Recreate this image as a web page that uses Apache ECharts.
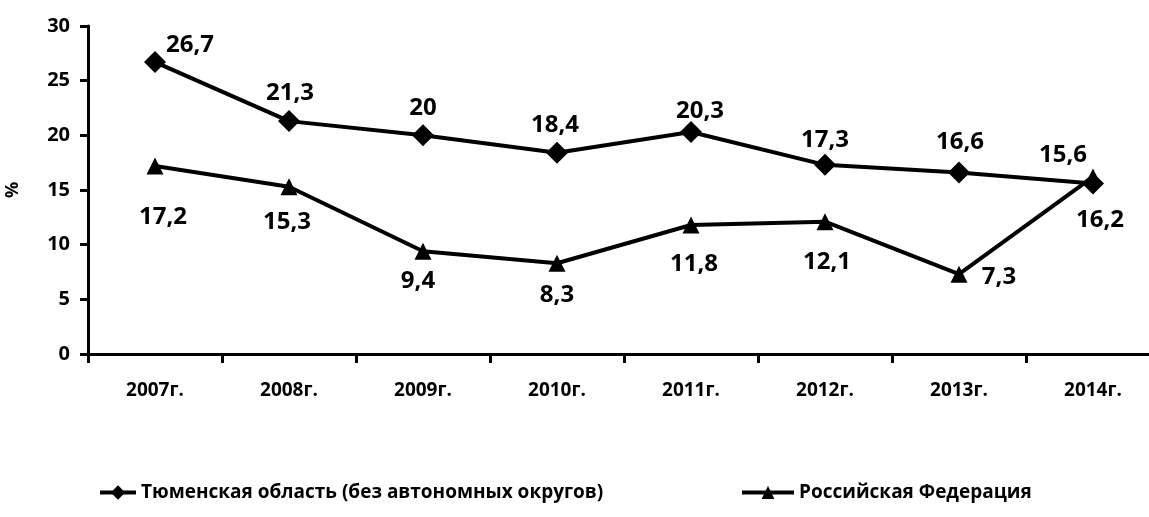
<!DOCTYPE html>
<html>
<head>
<meta charset="utf-8">
<script src="https://cdn.jsdelivr.net/npm/echarts@6/dist/echarts.min.js"></script>
<style>
  html, body { margin: 0; padding: 0; background: #fff; }
  #chart { width: 1149px; height: 517px; }
</style>
</head>
<body>
<div id="chart"></div>
<script>
// данные с графика
var years = ['2007г.', '2008г.', '2009г.', '2010г.', '2011г.', '2012г.', '2013г.', '2014г.']
var tyumen = [26.7, 21.3, 20, 18.4, 20.3, 17.3, 16.6, 15.6]
var russia = [17.2, 15.3, 9.4, 8.3, 11.8, 12.1, 7.3, 16.2]
var tyumenName = 'Тюменская область (без автономных округов)'
var russiaName = 'Российская Федерация'

// сдвиги подписей (как в оригинале)
var tyumenLabelOffset = [[35, -17], [1, -28], [0, -27], [-2, -28], [9, -21], [0, -25], [1, -30], [-30, -28]]
var russiaLabelOffset = [[8, 51], [-2, 35], [-5, 30], [0, 32], [3, 39], [2, 40], [40, 3], [7, 43]]

function fmt(v) {
  return String(v).replace('.', ',')
}

function withLabels(values, offsets) {
  return values.map(function (v, i) {
    return { value: v, label: { offset: offsets[i] } }
  })
}

var labelStyle = {
  show: true,
  position: 'inside',
  align: 'center',
  verticalAlign: 'middle',
  color: '#000',
  fontFamily: 'Open Sans',
  fontWeight: 'bold',
  fontSize: 24,
  formatter: function (p) { return fmt(p.value) }
}

var legendText = { color: '#000', fontFamily: 'Open Sans', fontWeight: 'bold', fontSize: 19 }

var chart = echarts.init(document.getElementById('chart'))
var option = {
  backgroundColor: '#fff',
  animation: false,
  grid: { left: 88, top: 26, width: 1072, height: 328, outerBoundsMode: 'none', containLabel: false },
  legend: [
    {
      data: [tyumenName],
      left: 98, top: 483, padding: 0,
      itemWidth: 36, itemHeight: 18,
      lineStyle: { width: 4 },
      textStyle: legendText
    },
    {
      data: [russiaName],
      left: 740, top: 483, padding: 0,
      itemWidth: 52, itemHeight: 16,
      lineStyle: { width: 4 },
      textStyle: legendText
    }
  ],
  xAxis: {
    type: 'category',
    data: years,
    boundaryGap: true,
    axisLine: { lineStyle: { color: '#000', width: 3 } },
    axisTick: { show: true, length: 9, lineStyle: { color: '#000', width: 3 } },
    axisLabel: { color: '#000', fontFamily: 'Open Sans', fontWeight: 'bold', fontSize: 19, margin: 27 }
  },
  yAxis: {
    type: 'value',
    min: 0, max: 30, interval: 5,
    name: '%',
    nameLocation: 'middle',
    nameGap: 66,
    nameTextStyle: { color: '#000', fontFamily: 'Open Sans', fontWeight: 'bold', fontSize: 18 },
    splitLine: { show: false },
    axisLine: { show: true, lineStyle: { color: '#000', width: 3 } },
    axisTick: { show: true, length: 8, lineStyle: { color: '#000', width: 3 } },
    axisLabel: { color: '#000', fontFamily: 'Open Sans', fontWeight: 'bold', fontSize: 20, margin: 18 }
  },
  series: [
    {
      name: tyumenName,
      type: 'line',
      data: withLabels(tyumen, tyumenLabelOffset),
      symbol: 'diamond',
      symbolSize: 22,
      lineStyle: { color: '#000', width: 4 },
      itemStyle: { color: '#000' },
      label: labelStyle,
      z: 3
    },
    {
      name: russiaName,
      type: 'line',
      data: withLabels(russia, russiaLabelOffset),
      symbol: 'triangle',
      symbolSize: 17,
      lineStyle: { color: '#000', width: 4 },
      itemStyle: { color: '#000' },
      label: labelStyle,
      z: 2
    }
  ]
}
chart.setOption(option)
</script>
</body>
</html>
